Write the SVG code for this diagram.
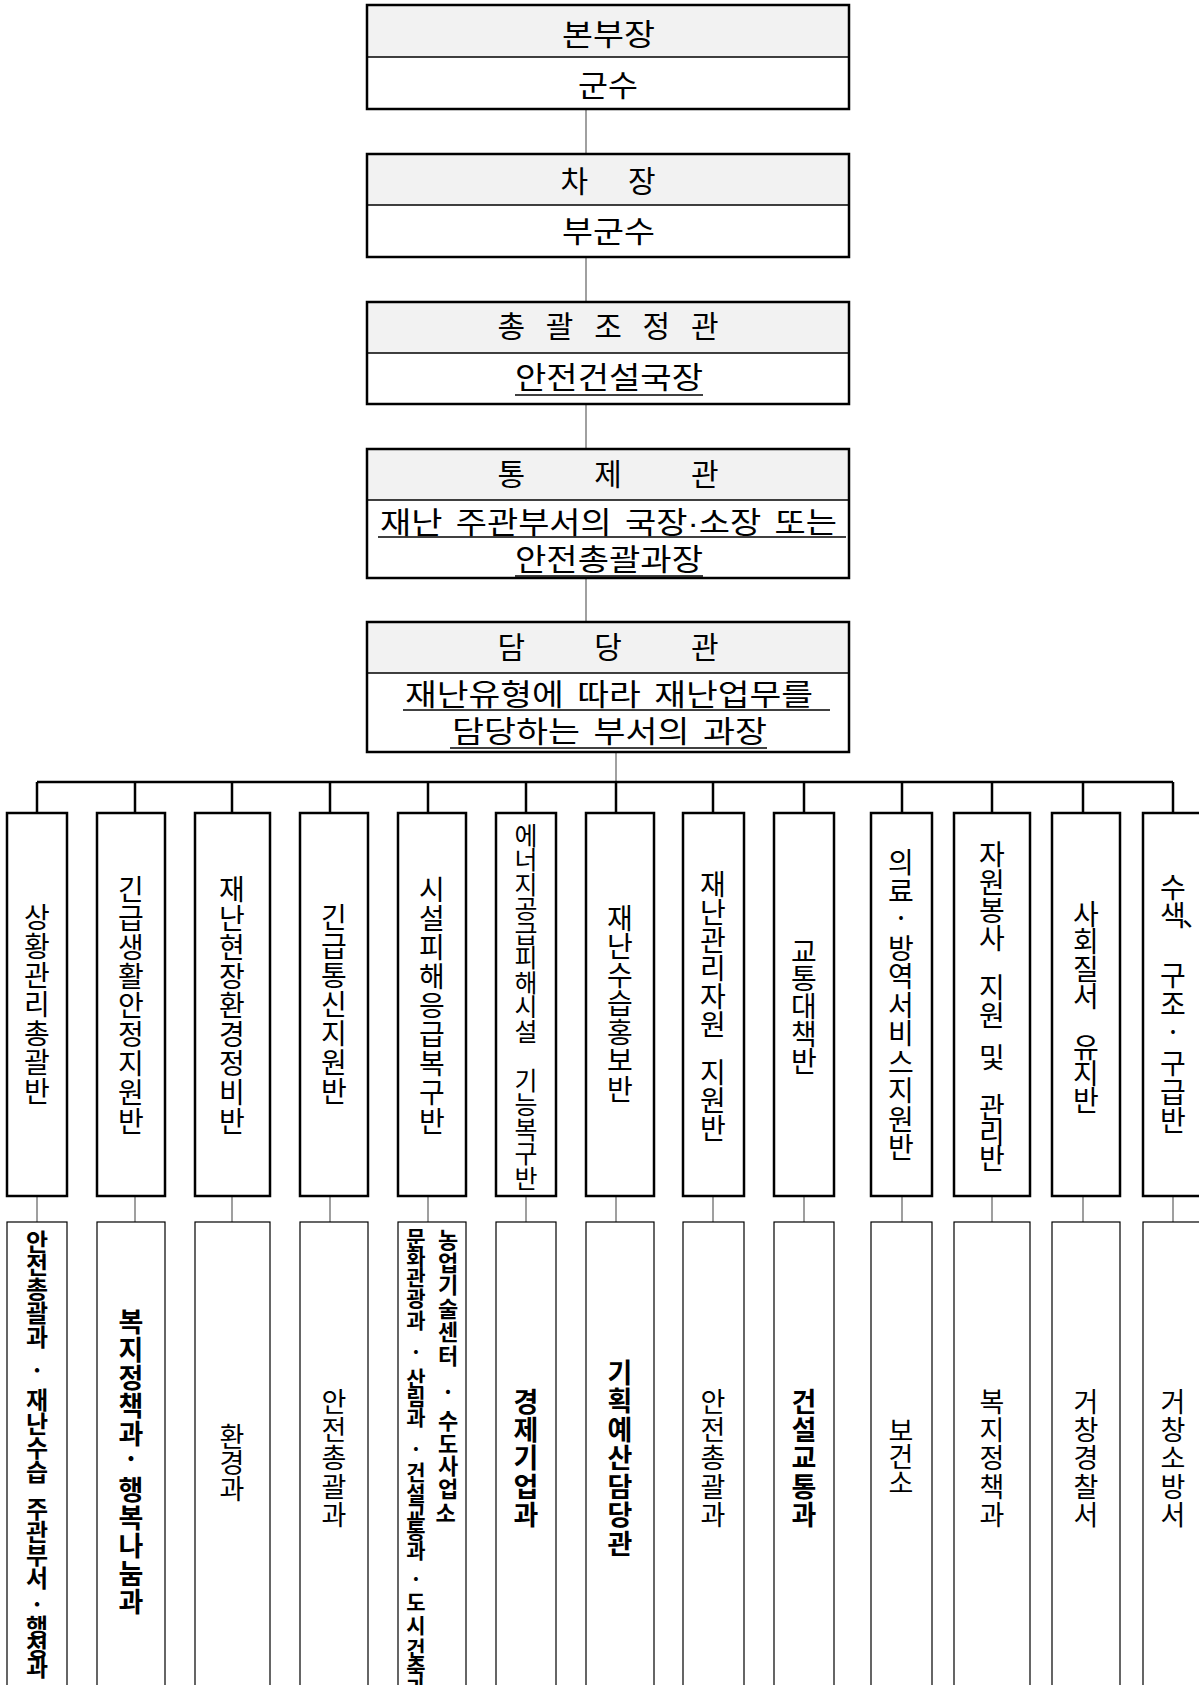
<svg xmlns="http://www.w3.org/2000/svg" width="1199" height="1685" viewBox="0 0 1199 1685">
<style>
  text { font-family: "Noto Sans CJK KR", "Noto Sans", sans-serif; fill: #000; }
  .t30 { font-size: 30px; text-anchor: middle; }
  .ws { word-spacing: 5px; }
  .dot { font-family: "Liberation Sans", sans-serif; }
  .col { font-size: 28px; text-anchor: middle; }
  .bot { font-size: 27px; text-anchor: middle; }
  .b { font-weight: bold; }
  .frame { fill: none; stroke: #000; stroke-width: 2.5; }
  .bg { fill: #fff; }
  .hdr { fill: #f2f2f2; }
  .div { stroke: #000; stroke-width: 1.5; }
  .ul { stroke: #000; stroke-width: 1.5; }
  .cbox { fill: #fff; stroke: #000; stroke-width: 2.5; }
  .lbox { fill: #fff; stroke: #000; stroke-width: 1.2; }
  .gray { stroke: #808080; stroke-width: 1.5; fill: none; }
  .bold { stroke: #000; stroke-width: 2.5; fill: none; }
</style>

<g id="connectors">
  <line class="gray" x1="586" y1="109" x2="586" y2="154"/>
  <line class="gray" x1="586" y1="257" x2="586" y2="302"/>
  <line class="gray" x1="586" y1="404" x2="586" y2="449"/>
  <line class="gray" x1="586" y1="578" x2="586" y2="622"/>
  <line class="gray" x1="616" y1="752" x2="616" y2="782"/>
  <line class="bold" x1="37" y1="782" x2="1173" y2="782"/>
  <path class="bold" d="M37 782V813M135 782V813M232 782V813M330 782V813M428 782V813M526 782V813M616 782V813M713 782V813M804 782V813M902 782V813M992 782V813M1083 782V813M1173 782V813"/>
  <path class="gray" d="M37 1196V1222M135 1196V1222M232 1196V1222M330 1196V1222M428 1196V1222M526 1196V1222M616 1196V1222M713 1196V1222M804 1196V1222M902 1196V1222M992 1196V1222M1083 1196V1222M1173 1196V1222"/>
</g>

<g id="n-bonbujang">
  <rect class="bg" x="367" y="5" width="482" height="104"/>
  <rect class="hdr" x="367" y="5" width="482" height="52"/>
  <line class="div" x1="367" y1="57" x2="849" y2="57"/>
  <rect class="frame" x="367" y="5" width="482" height="104"/>
  <text class="t30" x="608.5" y="45" textLength="93" lengthAdjust="spacingAndGlyphs">본부장</text>
  <text class="t30" x="608" y="96" textLength="60" lengthAdjust="spacingAndGlyphs">군수</text>
</g>

<g id="n-chajang">
  <rect class="bg" x="367" y="154" width="482" height="103"/>
  <rect class="hdr" x="367" y="154" width="482" height="51"/>
  <line class="div" x1="367" y1="205" x2="849" y2="205"/>
  <rect class="frame" x="367" y="154" width="482" height="103"/>
  <text class="t30" x="608" y="192" textLength="95" lengthAdjust="spacing">차 장</text>
  <text class="t30" x="608.5" y="242" textLength="93" lengthAdjust="spacingAndGlyphs">부군수</text>
</g>

<g id="n-chonggwal">
  <rect class="bg" x="367" y="302" width="482" height="102"/>
  <rect class="hdr" x="367" y="302" width="482" height="51"/>
  <line class="div" x1="367" y1="353" x2="849" y2="353"/>
  <rect class="frame" x="367" y="302" width="482" height="102"/>
  <text class="t30" x="608" y="337" textLength="221" lengthAdjust="spacing">총 괄 조 정 관</text>
  <text class="t30" x="609" y="388" textLength="188" lengthAdjust="spacingAndGlyphs">안전건설국장</text>
  <line class="ul" x1="515" y1="395" x2="703" y2="395"/>
</g>

<g id="n-tongje">
  <rect class="bg" x="367" y="449" width="482" height="129"/>
  <rect class="hdr" x="367" y="449" width="482" height="51"/>
  <line class="div" x1="367" y1="500" x2="849" y2="500"/>
  <rect class="frame" x="367" y="449" width="482" height="129"/>
  <text class="t30" x="608" y="485" textLength="221" lengthAdjust="spacing">통 제 관</text>
  <text class="t30 ws" x="608.5" y="533" textLength="457" lengthAdjust="spacingAndGlyphs">재난 주관부서의 국장<tspan class="dot">·</tspan>소장 또는</text>
  <line class="ul" x1="378" y1="537" x2="846" y2="537"/>
  <text class="t30" x="609" y="570" textLength="188" lengthAdjust="spacingAndGlyphs">안전총괄과장</text>
  <line class="ul" x1="515" y1="576" x2="703" y2="576"/>
</g>

<g id="n-damdang">
  <rect class="bg" x="367" y="622" width="482" height="130"/>
  <rect class="hdr" x="367" y="622" width="482" height="51"/>
  <line class="div" x1="367" y1="673" x2="849" y2="673"/>
  <rect class="frame" x="367" y="622" width="482" height="130"/>
  <text class="t30" x="608" y="658" textLength="221" lengthAdjust="spacing">담 당 관</text>
  <text class="t30 ws" x="609" y="705" textLength="408" lengthAdjust="spacingAndGlyphs">재난유형에 따라 재난업무를</text>
  <line class="ul" x1="403" y1="710" x2="830" y2="710"/>
  <text class="t30 ws" x="609.5" y="742" textLength="315" lengthAdjust="spacingAndGlyphs">담당하는 부서의 과장</text>
  <line class="ul" x1="450" y1="748" x2="767" y2="748"/>
</g>

<!-- Team boxes (upper row) -->
<g id="team-1">
  <rect class="cbox" x="7" y="813" width="60" height="383"/>
  <text class="col" x="37 37 37 37 37 37 37" y="928 957 986 1015 1044 1073 1102">상황관리총괄반</text>
</g>
<g id="team-2">
  <rect class="cbox" x="97" y="813" width="68" height="383"/>
  <text class="col" x="131 131 131 131 131 131 131 131 131" y="900 929 958 987 1016 1045 1074 1103 1132">긴급생활안정지원반</text>
</g>
<g id="team-3">
  <rect class="cbox" x="195" y="813" width="75" height="383"/>
  <text class="col" x="232 232 232 232 232 232 232 232 232" y="900 929 958 987 1016 1045 1074 1103 1132">재난현장환경정비반</text>
</g>
<g id="team-4">
  <rect class="cbox" x="300" y="813" width="68" height="383"/>
  <text class="col" x="334 334 334 334 334 334 334" y="928 957 986 1015 1044 1073 1102">긴급통신지원반</text>
</g>
<g id="team-5">
  <rect class="cbox" x="398" y="813" width="68" height="383"/>
  <text class="col" x="432 432 432 432 432 432 432 432 432" y="900 929 958 987 1016 1045 1074 1103 1132">시설피해응급복구반</text>
</g>
<g id="team-6">
  <rect class="cbox" x="496" y="813" width="60" height="383"/>
  <text class="col" style="font-size:25px" x="526 526 526 526 526 526 526 526 526 526 526 526 526 526 526" y="845 869 894 918 943 967 992 1016 1041 1065 1090 1114 1139 1163 1188">에너지공급피해시설 기능복구반</text>
</g>
<g id="team-7">
  <rect class="cbox" x="586" y="813" width="68" height="383"/>
  <text class="col" x="620 620 620 620 620 620 620" y="929 957 986 1014 1043 1071 1100">재난수습홍보반</text>
</g>
<g id="team-8">
  <rect class="cbox" x="683" y="813" width="61" height="383"/>
  <text class="col" x="713 713 713 713 713 713 713 713 713 713" y="895 923 951 979 1007 1035 1059 1083 1111 1139">재난관리자원 지원반</text>
</g>
<g id="team-9">
  <rect class="cbox" x="774" y="813" width="60" height="383"/>
  <text class="col" x="804 804 804 804 804" y="962 989 1017 1045 1072">교통대책반</text>
</g>
<g id="team-10">
  <rect class="cbox" x="871" y="813" width="61" height="383"/>
  <text class="col" x="901 901 901 901 901 901 901 901 901 901 901" y="873 902 928 959 987 1016 1044 1073 1101 1130 1158">의료·방역서비스지원반</text>
</g>
<g id="team-11">
  <rect class="cbox" x="954" y="813" width="76" height="383"/>
  <text class="col" x="992 992 992 992 992 992 992 992 992 992 992 992 992" y="865 893 921 949 973 998 1026 1041 1068 1093 1118 1144 1169">자원봉사 지원 및 관리반</text>
</g>
<g id="team-12">
  <rect class="cbox" x="1052" y="813" width="68" height="383"/>
  <text class="col" x="1086 1086 1086 1086 1086 1086 1086 1086" y="925 952 980 1007 1032 1058 1084 1111">사회질서 유지반</text>
</g>
<g id="team-13">
  <rect class="cbox" x="1143" y="813" width="80" height="383"/>
  <text class="col" x="1173 1173 1196 1173 1173 1173 1173 1173 1173 1173" y="898 926 926 956 986 1015 1042 1074 1103 1131">수색、 구조·구급반</text>
</g>

<!-- Department boxes (lower row) -->
<g id="dept-1">
  <rect class="lbox" x="7" y="1222" width="60" height="480"/>
  <text class="bot b" style="font-size:24px" x="37 37 37 37 37 37 37 37 37 37 37 37 37 37 37 37 37 37 37" y="1251 1274 1298 1322 1346 1379 1409 1433 1457 1481 1499 1518 1541 1564 1587 1613 1636 1656 1676">안전총괄과·재난수습 주관부서·행정과</text>
</g>
<g id="dept-2">
  <rect class="lbox" x="97" y="1222" width="68" height="480"/>
  <text class="bot b" x="131 131 131 131 131 131 131 131 131 131 131" y="1332 1360 1388 1416 1444 1469 1500 1528 1556 1584 1612">복지정책과·행복나눔과</text>
</g>
<g id="dept-3">
  <rect class="lbox" x="195" y="1222" width="75" height="480"/>
  <text class="bot" x="232 232 232" y="1447 1473 1499">환경과</text>
</g>
<g id="dept-4">
  <rect class="lbox" x="300" y="1222" width="68" height="480"/>
  <text class="bot" x="334 334 334 334 334" y="1412 1440 1468 1497 1525">안전총괄과</text>
</g>
<g id="dept-5">
  <rect class="lbox" x="398" y="1222" width="68" height="480"/>
  <text class="bot b" style="font-size:22px">
    <tspan x="448 448 448 448 448 448 448 448 448 448 448 448" y="1248 1271 1293 1317 1340 1364 1400 1429 1452 1474 1497 1521">농업기술센터·수도사업소</tspan>
    <tspan style="font-size:21px" x="416 416 416 416 416 416 416 416 416 416 416 416 416 416 416 416 416 416 416 416 416" y="1246 1265 1285 1306 1328 1360 1386 1405 1425 1457 1480 1501 1520 1538 1558 1587 1610 1633 1656 1675 1695">문화관광과·산림과·건설교통과·도시건축과</tspan>
  </text>
</g>
<g id="dept-6">
  <rect class="lbox" x="496" y="1222" width="60" height="480"/>
  <text class="bot b" x="526 526 526 526 526" y="1412 1440 1468 1497 1525">경제기업과</text>
</g>
<g id="dept-7">
  <rect class="lbox" x="586" y="1222" width="68" height="480"/>
  <text class="bot b" x="620 620 620 620 620 620 620" y="1383 1411 1440 1468 1497 1525 1554">기획예산담당관</text>
</g>
<g id="dept-8">
  <rect class="lbox" x="683" y="1222" width="61" height="480"/>
  <text class="bot" x="713 713 713 713 713" y="1412 1440 1468 1497 1525">안전총괄과</text>
</g>
<g id="dept-9">
  <rect class="lbox" x="774" y="1222" width="60" height="480"/>
  <text class="bot b" x="804 804 804 804 804" y="1412 1440 1468 1497 1525">건설교통과</text>
</g>
<g id="dept-10">
  <rect class="lbox" x="871" y="1222" width="61" height="480"/>
  <text class="bot" x="901 901 901" y="1441 1467 1493">보건소</text>
</g>
<g id="dept-11">
  <rect class="lbox" x="954" y="1222" width="76" height="480"/>
  <text class="bot" x="992 992 992 992 992" y="1412 1440 1468 1497 1525">복지정책과</text>
</g>
<g id="dept-12">
  <rect class="lbox" x="1052" y="1222" width="68" height="480"/>
  <text class="bot" x="1086 1086 1086 1086 1086" y="1412 1440 1468 1497 1525">거창경찰서</text>
</g>
<g id="dept-13">
  <rect class="lbox" x="1143" y="1222" width="80" height="480"/>
  <text class="bot" x="1173 1173 1173 1173 1173" y="1412 1440 1468 1497 1525">거창소방서</text>
</g>
</svg>
